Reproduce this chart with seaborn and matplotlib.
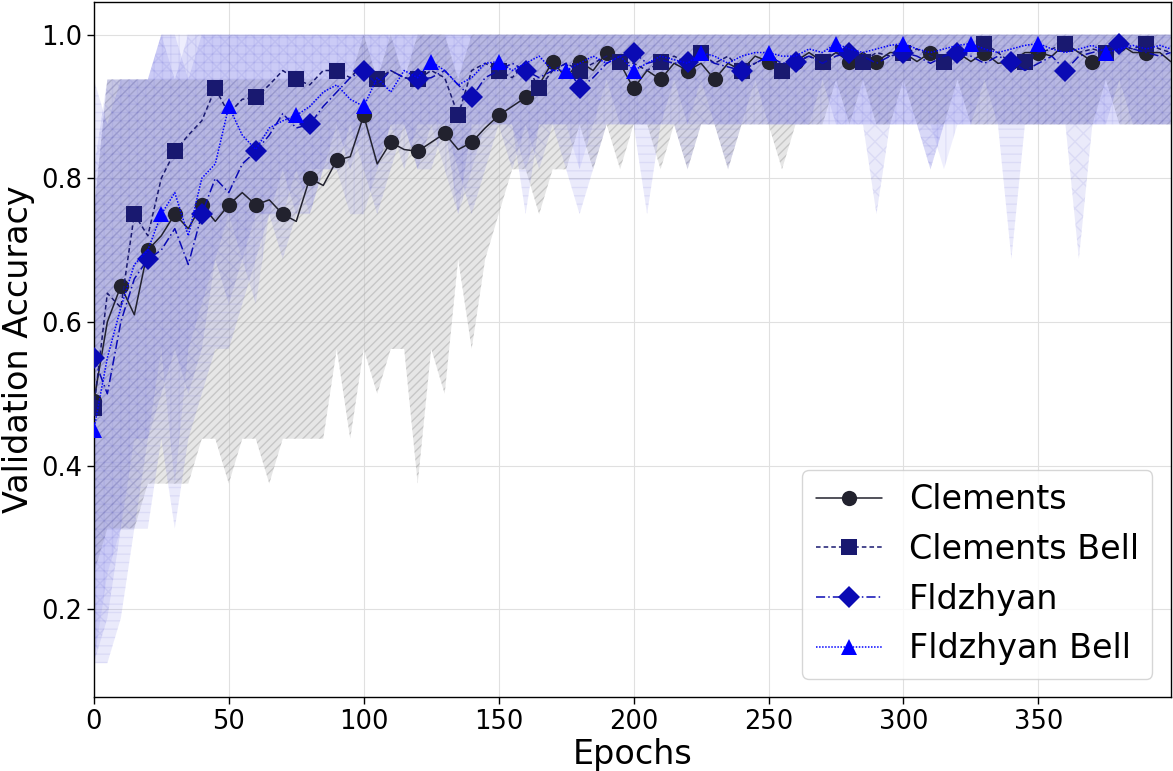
import numpy as np
import pandas as pd
import matplotlib
matplotlib.use("Agg")
import matplotlib.pyplot as plt
import seaborn as sns

epochs = list(range(0, 400, 5)) + [399]

clements = [0.49, 0.60, 0.65, 0.61, 0.70, 0.72, 0.75, 0.73, 0.763, 0.74,
            0.763, 0.78, 0.763, 0.77, 0.75, 0.74, 0.80, 0.79, 0.825, 0.83,
            0.8875, 0.82, 0.85, 0.84, 0.8375, 0.85, 0.8625, 0.84, 0.85, 0.87,
            0.8875, 0.90, 0.9125, 0.93, 0.9625, 0.94, 0.9625, 0.95, 0.975, 0.96,
            0.925, 0.95, 0.9375, 0.96, 0.95, 0.96, 0.9375, 0.96, 0.95, 0.97,
            0.9625, 0.95, 0.9625, 0.975, 0.9625, 0.975, 0.9625, 0.975, 0.9625, 0.975,
            0.975, 0.9625, 0.975, 0.97, 0.975, 0.9625, 0.975, 0.96, 0.9625, 0.975,
            0.975, 0.97, 0.9875, 0.975, 0.9625, 0.975, 0.9875, 0.975, 0.975, 0.975, 0.9625]
clements_bell = [0.48, 0.64, 0.62, 0.75, 0.72, 0.80, 0.8375, 0.86, 0.88, 0.925,
                 0.89, 0.91, 0.9125, 0.93, 0.95, 0.9375, 0.93, 0.95, 0.95, 0.94,
                 0.96, 0.9375, 0.95, 0.94, 0.9375, 0.95, 0.94, 0.8875, 0.95, 0.96,
                 0.95, 0.94, 0.96, 0.925, 0.95, 0.96, 0.95, 0.96, 0.97, 0.9625,
                 0.96, 0.95, 0.9625, 0.97, 0.96, 0.975, 0.96, 0.97, 0.95, 0.96,
                 0.97, 0.95, 0.96, 0.97, 0.9625, 0.975, 0.97, 0.9625, 0.975, 0.97,
                 0.975, 0.98, 0.97, 0.9625, 0.975, 0.98, 0.9875, 0.975, 0.96, 0.9625,
                 0.975, 0.98, 0.9875, 0.975, 0.98, 0.975, 0.985, 0.98, 0.9875, 0.98, 0.975]
fldzhyan = [0.55, 0.50, 0.60, 0.66, 0.6875, 0.70, 0.73, 0.68, 0.75, 0.80,
            0.78, 0.82, 0.8375, 0.86, 0.89, 0.87, 0.875, 0.90, 0.92, 0.94,
            0.95, 0.93, 0.95, 0.94, 0.9375, 0.94, 0.95, 0.93, 0.9125, 0.94,
            0.95, 0.96, 0.95, 0.94, 0.95, 0.96, 0.925, 0.94, 0.96, 0.97,
            0.975, 0.96, 0.965, 0.96, 0.9625, 0.97, 0.96, 0.955, 0.95, 0.96,
            0.97, 0.96, 0.9625, 0.97, 0.96, 0.97, 0.975, 0.97, 0.96, 0.97,
            0.975, 0.97, 0.96, 0.97, 0.975, 0.97, 0.96, 0.97, 0.9625, 0.95,
            0.96, 0.97, 0.95, 0.97, 0.975, 0.98, 0.9875, 0.98, 0.975, 0.97, 0.975]
fldzhyan_bell = [0.45, 0.55, 0.62, 0.68, 0.70, 0.75, 0.78, 0.72, 0.80, 0.82,
                 0.90, 0.86, 0.84, 0.87, 0.88, 0.8875, 0.90, 0.92, 0.93, 0.91,
                 0.90, 0.94, 0.92, 0.95, 0.94, 0.9625, 0.95, 0.93, 0.94, 0.96,
                 0.9625, 0.95, 0.96, 0.97, 0.95, 0.95, 0.96, 0.97, 0.96, 0.97,
                 0.95, 0.96, 0.97, 0.965, 0.96, 0.975, 0.97, 0.96, 0.97, 0.975,
                 0.975, 0.97, 0.97, 0.98, 0.975, 0.9875, 0.98, 0.975, 0.98, 0.985,
                 0.9875, 0.98, 0.975, 0.98, 0.985, 0.9875, 0.98, 0.975, 0.98, 0.985,
                 0.9875, 0.98, 0.975, 0.98, 0.985, 0.975, 0.98, 0.985, 0.98, 0.985, 0.98]

clements_low = [0.25, 0.3125, 0.3125, 0.3125, 0.375, 0.375, 0.375, 0.375, 0.4375, 0.4375,
                0.375, 0.4375, 0.4375, 0.375, 0.4375, 0.4375, 0.4375, 0.4375, 0.5625, 0.4375,
                0.5625, 0.5, 0.5625, 0.5625, 0.375, 0.5625, 0.5, 0.6875, 0.5625, 0.6875,
                0.75, 0.8125, 0.8125, 0.75, 0.8125, 0.8125, 0.875, 0.8125, 0.875, 0.8125,
                0.875, 0.875, 0.8125, 0.875, 0.8125, 0.875, 0.875, 0.8125, 0.875, 0.875,
                0.875, 0.8125, 0.875, 0.875, 0.875, 0.9375, 0.875, 0.9375, 0.875, 0.875,
                0.9375, 0.875, 0.875, 0.875, 0.9375, 0.875, 0.875, 0.875, 0.875, 0.875,
                0.875, 0.875, 0.875, 0.875, 0.875, 0.9375, 0.875, 0.875, 0.875, 0.875, 0.875]
clements_high = [0.75, 0.9375, 0.9375, 0.9375, 0.9375, 0.9375, 0.9375, 0.9375, 0.9375, 0.9375,
                 0.9375, 0.9375, 0.9375, 0.9375, 0.9375, 0.9375, 0.9375, 0.9375, 0.9375, 0.9375,
                 1.0, 0.9375, 1.0, 0.9375, 1.0, 1.0, 1.0, 0.9375, 1.0, 1.0,
                 1.0, 1.0, 1.0, 1.0, 1.0, 1.0, 1.0, 1.0, 1.0, 1.0,
                 1.0, 1.0, 1.0, 1.0, 1.0, 1.0, 1.0, 1.0, 1.0, 1.0,
                 1.0, 1.0, 1.0, 1.0, 1.0, 1.0, 1.0, 1.0, 1.0, 1.0,
                 1.0, 1.0, 1.0, 1.0, 1.0, 1.0, 1.0, 1.0, 1.0, 1.0,
                 1.0, 1.0, 1.0, 1.0, 1.0, 1.0, 1.0, 1.0, 1.0, 1.0, 1.0]
cbell_low = [0.125, 0.1875, 0.3125, 0.3125, 0.4375, 0.5, 0.5625, 0.5, 0.5625, 0.6875,
             0.625, 0.6875, 0.75, 0.75, 0.8125, 0.75, 0.8125, 0.8125, 0.875, 0.8125,
             0.875, 0.8125, 0.875, 0.875, 0.8125, 0.875, 0.875, 0.75, 0.875, 0.875,
             0.875, 0.8125, 0.875, 0.8125, 0.875, 0.875, 0.875, 0.875, 0.9375, 0.875,
             0.875, 0.875, 0.875, 0.9375, 0.875, 0.875, 0.875, 0.875, 0.875, 0.9375,
             0.875, 0.875, 0.875, 0.875, 0.9375, 0.875, 0.875, 0.875, 0.75, 0.875,
             0.875, 0.875, 0.8125, 0.875, 0.875, 0.875, 0.9375, 0.875, 0.875, 0.875,
             0.875, 0.875, 0.875, 0.6875, 0.875, 0.875, 0.9375, 0.875, 0.875, 0.875, 0.875]
cbell_high = [0.8125, 0.9375, 0.9375, 0.9375, 0.9375, 1.0, 0.9375, 1.0, 1.0, 1.0,
              1.0, 1.0, 1.0, 1.0, 1.0, 1.0, 1.0, 1.0, 1.0, 1.0,
              1.0, 1.0, 1.0, 1.0, 1.0, 1.0, 1.0, 1.0, 1.0, 1.0,
              1.0, 1.0, 1.0, 1.0, 1.0, 1.0, 1.0, 1.0, 1.0, 1.0,
              1.0, 1.0, 1.0, 1.0, 1.0, 1.0, 1.0, 1.0, 1.0, 1.0,
              1.0, 1.0, 1.0, 1.0, 1.0, 1.0, 1.0, 1.0, 1.0, 1.0,
              1.0, 1.0, 1.0, 1.0, 1.0, 1.0, 1.0, 1.0, 1.0, 1.0,
              1.0, 1.0, 1.0, 1.0, 1.0, 1.0, 1.0, 1.0, 1.0, 1.0, 1.0]
fld_low = [0.125, 0.125, 0.1875, 0.3125, 0.3125, 0.4375, 0.3125, 0.4375, 0.5, 0.5625,
           0.5625, 0.625, 0.6875, 0.75, 0.6875, 0.75, 0.75, 0.8125, 0.8125, 0.875,
           0.8125, 0.75, 0.8125, 0.875, 0.8125, 0.8125, 0.875, 0.8125, 0.75, 0.8125,
           0.875, 0.875, 0.75, 0.875, 0.875, 0.8125, 0.75, 0.8125, 0.875, 0.875,
           0.875, 0.75, 0.875, 0.875, 0.8125, 0.875, 0.875, 0.8125, 0.875, 0.875,
           0.875, 0.875, 0.875, 0.875, 0.875, 0.875, 0.875, 0.875, 0.875, 0.875,
           0.875, 0.875, 0.8125, 0.875, 0.875, 0.875, 0.875, 0.875, 0.6875, 0.875,
           0.875, 0.875, 0.875, 0.875, 0.875, 0.875, 0.875, 0.875, 0.875, 0.875, 0.875]
fld_high = [0.9375, 0.875, 0.9375, 0.9375, 0.9375, 1.0, 1.0, 0.9375, 1.0, 1.0,
            1.0, 1.0, 1.0, 1.0, 1.0, 1.0, 1.0, 1.0, 1.0, 1.0,
            1.0, 1.0, 1.0, 1.0, 1.0, 1.0, 1.0, 1.0, 1.0, 1.0,
            1.0, 1.0, 1.0, 1.0, 1.0, 1.0, 1.0, 1.0, 1.0, 1.0,
            1.0, 1.0, 1.0, 1.0, 1.0, 1.0, 1.0, 1.0, 1.0, 1.0,
            1.0, 1.0, 1.0, 1.0, 1.0, 1.0, 1.0, 1.0, 1.0, 1.0,
            1.0, 1.0, 1.0, 1.0, 1.0, 1.0, 1.0, 1.0, 1.0, 1.0,
            1.0, 1.0, 1.0, 1.0, 1.0, 1.0, 1.0, 1.0, 1.0, 1.0, 1.0]
fbell_low = [0.125, 0.25, 0.3125, 0.4375, 0.4375, 0.5625, 0.375, 0.5625, 0.625, 0.6875,
             0.75, 0.6875, 0.625, 0.75, 0.75, 0.8125, 0.75, 0.8125, 0.8125, 0.75,
             0.75, 0.8125, 0.875, 0.8125, 0.875, 0.875, 0.8125, 0.75, 0.8125, 0.875,
             0.875, 0.875, 0.8125, 0.875, 0.875, 0.875, 0.8125, 0.875, 0.875, 0.875,
             0.875, 0.875, 0.875, 0.875, 0.875, 0.9375, 0.875, 0.875, 0.875, 0.875,
             0.875, 0.875, 0.875, 0.875, 0.875, 0.875, 0.875, 0.875, 0.875, 0.875,
             0.875, 0.875, 0.875, 0.8125, 0.875, 0.875, 0.875, 0.875, 0.875, 0.875,
             0.875, 0.875, 0.875, 0.875, 0.875, 0.875, 0.875, 0.875, 0.875, 0.875, 0.875]
fbell_high = [0.75, 0.9375, 0.9375, 0.9375, 0.9375, 1.0, 1.0, 1.0, 1.0, 1.0,
              1.0, 1.0, 1.0, 1.0, 1.0, 1.0, 1.0, 1.0, 1.0, 1.0,
              1.0, 1.0, 1.0, 1.0, 1.0, 1.0, 1.0, 1.0, 1.0, 1.0,
              1.0, 1.0, 1.0, 1.0, 1.0, 1.0, 1.0, 1.0, 1.0, 1.0,
              1.0, 1.0, 1.0, 1.0, 1.0, 1.0, 1.0, 1.0, 1.0, 1.0,
              1.0, 1.0, 1.0, 1.0, 1.0, 1.0, 1.0, 1.0, 1.0, 1.0,
              1.0, 1.0, 1.0, 1.0, 1.0, 1.0, 1.0, 1.0, 1.0, 1.0,
              1.0, 1.0, 1.0, 1.0, 1.0, 1.0, 1.0, 1.0, 1.0, 1.0, 1.0]

labels = ["Clements", "Clements Bell", "Fldzhyan", "Fldzhyan Bell"]
x_ticks = [0, 50, 100, 150, 200, 250, 300, 350]
y_ticks = [0.2, 0.4, 0.6, 0.8, 1.0]

sns.set_style("white")
plt.rcParams["font.family"] = ["DejaVu Sans"]
plt.rcParams["hatch.linewidth"] = 1.0
plt.rcParams["text.color"] = "black"
plt.rcParams["axes.labelcolor"] = "black"
plt.rcParams["xtick.color"] = "black"
plt.rcParams["ytick.color"] = "black"

fig, ax = plt.subplots(figsize=(11.73, 7.71), dpi=100)

series = [
    (labels[0], clements, clements_low, clements_high, "#22222e", "-", "o", 2, "#c8c8c8", "////", 0.45),
    (labels[1], clements_bell, cbell_low, cbell_high, "#191970", (0, (3, 2)), "s", 3, "#3a3ad0", "xx", 0.10),
    (labels[2], fldzhyan, fld_low, fld_high, "#0a0ab4", (0, (6, 2, 1, 2)), "D", 4, "#3a3ae0", "--", 0.10),
    (labels[3], fldzhyan_bell, fbell_low, fbell_high, "#0000ff", (0, (1, 1)), "^", 5, "#4a4af0", "||", 0.09),
]

ep = np.array(epochs)
for name, mean, lo, hi, col, ls, mk, every, fcol, hatch, alpha in series:
    if name == "Clements":
        ax.fill_between(ep, lo, hi, facecolor=fcol, alpha=alpha, hatch=hatch,
                        edgecolor="#a0a0a0", linewidth=0, zorder=1)
    else:
        ax.fill_between(ep, lo, hi, facecolor=fcol, alpha=alpha, hatch=hatch,
                        edgecolor=(0.35, 0.35, 0.8, 0.3), linewidth=0, zorder=1)

for name, mean, lo, hi, col, ls, mk, every, fcol, hatch, alpha in series:
    df = pd.DataFrame({"Epochs": epochs, "acc": mean})
    sns.lineplot(data=df, x="Epochs", y="acc", ax=ax, color=col, linestyle=ls,
                 linewidth=1.1, marker=mk, markersize=11,
                 markevery=list(range(0, len(epochs) - 1, every)),
                 markeredgewidth=0, label=name, zorder=3)

ax.set_xlim(0, 399)
ax.set_ylim(0.078, 1.046)
ax.set_yticks(y_ticks)
ax.set_xticks(x_ticks)
ax.grid(True, color="#e0e0e0", linewidth=0.8)
ax.set_axisbelow(True)
for s in ax.spines.values():
    s.set_color("black")
    s.set_linewidth(1.0)
ax.tick_params(axis="both", labelsize=18.5, direction="out", length=5, width=1,
               bottom=True, left=True, color="black", labelcolor="black")
ax.set_xlabel("Epochs", fontsize=24, labelpad=2)
ax.set_ylabel("Validation Accuracy", fontsize=24, labelpad=4)
leg = ax.legend(loc="lower right", fontsize=24, frameon=True, handlelength=2.0,
                borderpad=0.4, labelspacing=0.5, handletextpad=0.8,
                borderaxespad=0.55)
leg.get_frame().set_edgecolor("#cccccc")
for t in leg.get_texts():
    t.set_color("black")

fig.subplots_adjust(left=0.08, right=0.998, top=0.998, bottom=0.096)
fig.savefig("out.png", dpi=100)
